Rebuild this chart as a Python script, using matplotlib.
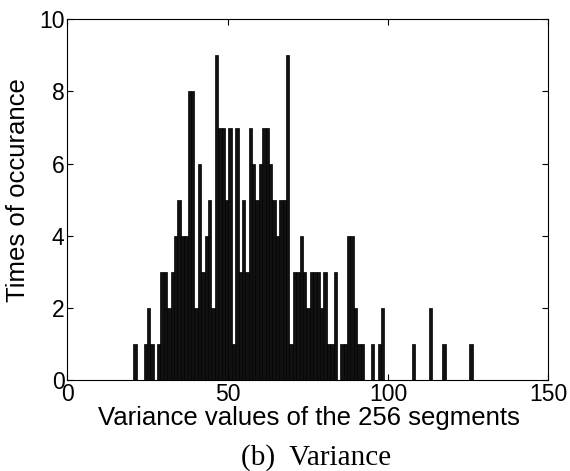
import numpy as np
import matplotlib
matplotlib.use('Agg')
import matplotlib.pyplot as plt

# histogram of the variance values (100 bins), counts
bin_lo = 20.6
bin_hi = 126.4
counts = [1, 0, 0, 1, 2, 1, 0, 1, 3, 3,
          2, 3, 4, 5, 4, 4, 8, 8, 2, 6,
          3, 4, 5, 2, 9, 7, 7, 5, 7, 1,
          7, 3, 5, 3, 7, 6, 5, 6, 7, 7,
          6, 5, 4, 5, 5, 9, 1, 3, 3, 4,
          3, 2, 3, 3, 3, 2, 3, 1, 1, 3,
          0, 1, 1, 4, 4, 2, 1, 1, 0, 0,
          1, 0, 1, 2, 0, 0, 0, 0, 0, 0,
          0, 0, 1, 0, 0, 0, 0, 2, 0, 0,
          0, 1, 0, 0, 0, 0, 0, 0, 0, 1]
xticks = [0, 50, 100, 150]
yticks = [0, 2, 4, 6, 8, 10]

edges = np.linspace(bin_lo, bin_hi, len(counts) + 1)
centers = (edges[:-1] + edges[1:]) / 2
width = edges[1] - edges[0]

fig = plt.figure(figsize=(5.7, 4.71), dpi=100)
ax = fig.add_axes([0.118, 0.193, 0.844, 0.766])

ax.bar(centers, counts, width=width, color='#111111', edgecolor='black', linewidth=0.5)

ax.set_xlim(0, 150)
ax.set_ylim(0, 10)
ax.set_xticks(xticks)
ax.set_yticks(yticks)
ax.tick_params(direction='in', top=True, right=True, length=4, width=0.8,
               labelsize=16.5, pad=2)
for lab in ax.get_xticklabels() + ax.get_yticklabels():
    lab.set_family('Liberation Sans')
for s in ax.spines.values():
    s.set_linewidth(0.8)

fig.text(0.542, 0.112, 'Variance values of the 256 segments', ha='center', va='center',
         fontsize=18.5, family='Liberation Sans')
fig.text(0.032, 0.597, 'Times of occurance', rotation=90, ha='center', va='center',
         fontsize=18.5, family='Liberation Sans')
fig.text(0.554, 0.028, '(b)  Variance', ha='center', va='center',
         fontsize=21, family='Liberation Serif')

fig.savefig('out.png', dpi=100)
